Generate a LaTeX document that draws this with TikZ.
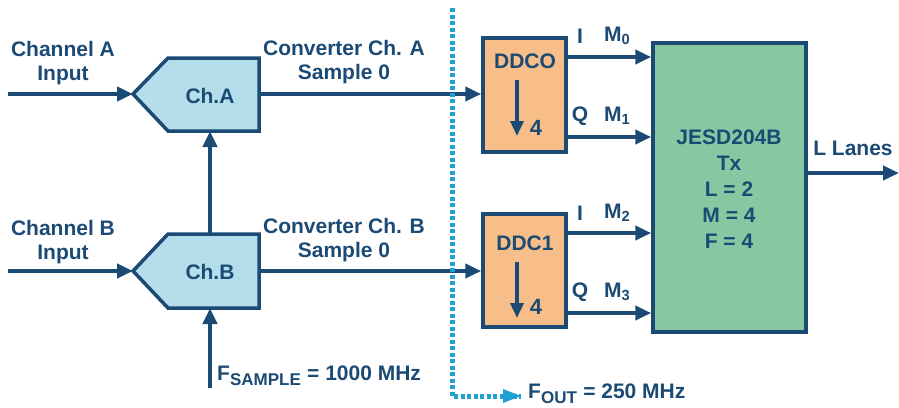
\documentclass[tikz,border=0pt]{standalone}
\usepackage{fontspec}
\setmainfont{Liberation Sans}
\usetikzlibrary{arrows.meta}
\definecolor{navy}{HTML}{1B4A74}
\definecolor{chfill}{HTML}{B6DDEB}
\definecolor{ddcfill}{HTML}{F7BE8A}
\definecolor{jfill}{HTML}{86C8A2}
\definecolor{dotc}{HTML}{1FA2D2}
\tikzset{
  ln/.style={draw=navy, line width=4.5pt},
  arr/.style={ln, -{Triangle[length=16pt,width=14pt]}},
  boxline/.style={draw=navy, line width=3.5pt},
  lbl/.style={text=navy, font=\bfseries\fontsize{21}{24}\selectfont, align=center, inner sep=0pt},
  ddcbox/.style={boxline, fill=ddcfill, minimum width=83pt, minimum height=114pt, inner sep=0pt},
}
\begin{document}
\begin{tikzpicture}[x=1pt,y=-1pt]
\useasboundingbox (0,0) rectangle (899,407);
% Ch.A shape
\coordinate (chaTip) at (133,94);
\coordinate (chaR) at (259,94);
\coordinate (chaBot) at (210,131);
\draw[boxline, fill=chfill, line join=miter] (chaTip) -- (168,58) -- (259,58) -- (259,131) -- (168,131) -- cycle;
\node[lbl] (chaT) at (210,96) {Ch.A};
% Ch.B shape
\coordinate (chbTip) at (133,271);
\coordinate (chbR) at (259,271);
\coordinate (chbTop) at (210,234);
\coordinate (chbBot) at (210,308);
\draw[boxline, fill=chfill, line join=miter] (chbTip) -- (168,234) -- (259,234) -- (259,308) -- (168,308) -- cycle;
\node[lbl] (chbT) at (210,272) {Ch.B};
% DDC boxes
\node[ddcbox] (ddc0) at (524.5,95) {};
\node[ddcbox, minimum height=113pt] (ddc1) at (524.5,270.5) {};
\node[lbl] (ddc0t) at (525,61) {DDCO};
\node[lbl] (ddc1t) at (525,243) {DDC1};
\coordinate (d0a) at (517,80); \coordinate (d0b) at (517,136);
\coordinate (d1a) at (517,262); \coordinate (d1b) at (517,318);
\draw[ln, line width=3.5pt, -{Triangle[length=15pt,width=13pt]}] (d0a) -- (d0b);
\draw[ln, line width=3.5pt, -{Triangle[length=15pt,width=13pt]}] (d1a) -- (d1b);
\node[lbl, font=\bfseries\fontsize{22}{24}\selectfont] (f0) at (536,128) {4};
\node[lbl, font=\bfseries\fontsize{22}{24}\selectfont] (f1) at (536,307) {4};
% JESD box
\node[boxline, fill=jfill, minimum width=153pt, minimum height=289pt, inner sep=0pt] (jesd) at (729.5,187.5) {};
\node[lbl, font=\bfseries\fontsize{21}{26}\selectfont] (jt) at (729,189) {JESD204B\\Tx\\L = 2\\M = 4\\F = 4};
% inputs
\coordinate (inA) at (8,94);
\coordinate (inB) at (8,271);
\draw[arr] (inA) -- (chaTip);
\draw[arr] (inB) -- (chbTip);
\node[lbl] (la) at (63,63) {Channel A\\Input};
\node[lbl] (lb) at (63,242) {Channel B\\Input};
% clock
\draw[arr] (chbTop) -- (chaBot);
\coordinate (fs) at (210,388);
\draw[arr] (fs) -- (chbBot);
\node[lbl, anchor=west] (fsl) at (217,376) {F\textsubscript{\fontsize{17}{17}\selectfont SAMPLE} = 1000 MHz};
% converter outputs
\draw[arr] (chaR) -- (ddc0.west |- chaR);
\draw[arr] (chbR) -- (ddc1.west |- chbR);
\node[lbl] (ca) at (344,62) {Converter Ch. A\\Sample 0};
\node[lbl] (cb) at (344,240) {Converter Ch. B\\Sample 0};
% dotted divider
\coordinate (dt) at (452,8);
\coordinate (dc) at (452,396);
\coordinate (de) at (521,396);
\draw[draw=dotc, line width=5pt, dash pattern=on 4pt off 2.5pt] (dt) -- (dc) -- (de);
\fill[dotc] (de) -- ++(-18,-7) -- ++(0,14) -- cycle;
\node[lbl, anchor=west] (fo) at (528,394) {F\textsubscript{\fontsize{17}{17}\selectfont OUT} = 250 MHz};
% DDC outputs
\coordinate (o0) at (566,57); \coordinate (o1) at (566,137);
\coordinate (o2) at (566,233); \coordinate (o3) at (566,313);
\draw[arr] (o0) -- (jesd.west |- o0);
\draw[arr] (o1) -- (jesd.west |- o1);
\draw[arr] (o2) -- (jesd.west |- o2);
\draw[arr] (o3) -- (jesd.west |- o3);
\node[lbl] (i0) at (580,36) {I};
\node[lbl] (q0) at (580,116) {Q};
\node[lbl] (i1) at (580,213) {I};
\node[lbl] (q1) at (580,292) {Q};
\node[lbl, anchor=west] (m0) at (604,36) {M\textsubscript{0}};
\node[lbl, anchor=west] (m1) at (604,116) {M\textsubscript{1}};
\node[lbl, anchor=west] (m2) at (604,213) {M\textsubscript{2}};
\node[lbl, anchor=west] (m3) at (604,292) {M\textsubscript{3}};
% output
\coordinate (lo) at (899,173);
\draw[arr] (jesd.east |- lo) -- (lo);
\node[lbl] (ll) at (853,148) {L Lanes};
\end{tikzpicture}
\end{document}
